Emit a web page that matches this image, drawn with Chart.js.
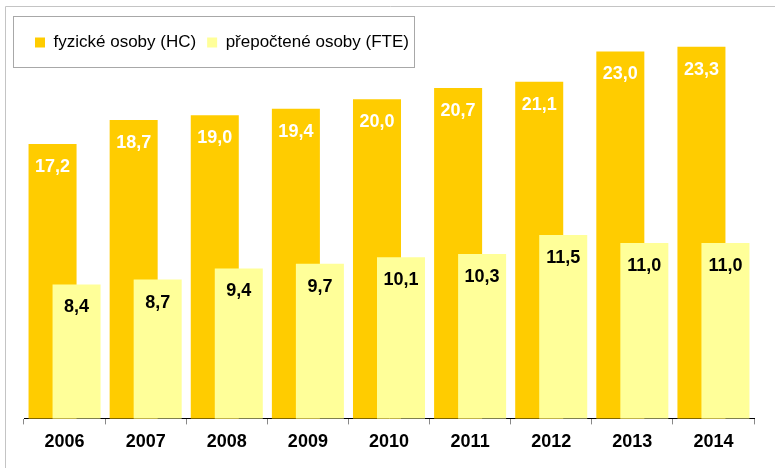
<!DOCTYPE html>
<html>
<head>
<meta charset="utf-8">
<script src="https://cdn.jsdelivr.net/npm/chart.js@4"></script>
<style>
    html, body { margin: 0; padding: 0; background: #fff; }
    #wrap { width: 775px; height: 468px; position: relative; }
</style>
</head>
<body>
<div id="wrap"><canvas id="staffChart"></canvas></div>
<script>
const years = ['2006', '2007', '2008', '2009', '2010', '2011', '2012', '2013', '2014'];
const headCount = [17.2, 18.7, 19.0, 19.4, 20.0, 20.7, 21.1, 23.0, 23.3];
const fullTime = [8.4, 8.7, 9.4, 9.7, 10.1, 10.3, 11.5, 11.0, 11.0];
const seriesNames = ['fyzické osoby (HC)', 'přepočtené osoby (FTE)'];
const yMax = 22.4;

const fontFamily = '"Liberation Sans", Arial, sans-serif';

// HC bars go behind the FTE bars, so draw dataset 0 first by hand
const hcBehind = {
    id: 'hcBehind',
    beforeDatasetsDraw(chart) {
        chart.getDatasetMeta(0).controller.draw();
    },
    beforeDatasetDraw(chart, args) {
        if (args.index === 0) return false;
    }
};

// value labels inside the top of each bar
const barLabels = {
    id: 'barLabels',
    afterDatasetsDraw(chart) {
        const ctx = chart.ctx;
        ctx.save();
        ctx.font = 'bold 18px ' + fontFamily;
        ctx.textAlign = 'center';
        ctx.textBaseline = 'middle';
        chart.data.datasets.forEach((ds, i) => {
            const meta = chart.getDatasetMeta(i);
            ctx.fillStyle = i === 0 ? '#ffffff' : '#000000';
            meta.data.forEach((bar, j) => {
                const txt = ds.data[j].toFixed(1).replace('.', ',');
                ctx.fillText(txt, bar.x, bar.y + 23);
            });
        });
        ctx.restore();
    }
};

// outer frame and legend box
const frames = {
    id: 'frames',
    beforeDraw(chart) {
        const ctx = chart.ctx;
        const lg = chart.legend;
        ctx.save();
        ctx.strokeStyle = '#c4c4c4';
        ctx.lineWidth = 1;
        ctx.beginPath();
        ctx.moveTo(5.5, chart.height);
        ctx.lineTo(5.5, 6.5);
        ctx.lineTo(chart.width, 6.5);
        ctx.stroke();
        ctx.strokeStyle = '#a8a8a8';
        ctx.strokeRect(Math.round(lg.left) - 10.5, Math.round(lg.top) - 6.5, 401, 51);
        ctx.restore();
    }
};

const ctx = document.getElementById('staffChart').getContext('2d');
const staffChart = new Chart(ctx, {
    type: 'bar',
    data: {
        labels: years,
        datasets: [{
            label: seriesNames[0],
            data: headCount,
            backgroundColor: '#ffcc00',
            categoryPercentage: 0.592,
            barPercentage: 2,
            clip: false
        }, {
            label: seriesNames[1],
            data: fullTime,
            backgroundColor: '#ffff99',
            categoryPercentage: 0.592,
            barPercentage: 2,
            clip: false
        }]
    },
    options: {
        responsive: true,
        maintainAspectRatio: false,
        animation: false,
        layout: {
            padding: { left: 24, right: 21, top: 23, bottom: 8 }
        },
        plugins: {
            legend: {
                position: 'top',
                align: 'start',
                labels: {
                    boxWidth: 10,
                    boxHeight: 10,
                    padding: 11,
                    color: '#000',
                    font: { family: fontFamily, size: 17 }
                }
            },
            tooltip: { enabled: false }
        },
        scales: {
            x: {
                grid: {
                    offset: true,
                    drawOnChartArea: false,
                    drawTicks: true,
                    tickLength: 6,
                    tickColor: '#888'
                },
                border: { color: '#000', width: 1 },
                ticks: {
                    padding: 7,
                    color: '#000',
                    font: { family: fontFamily, size: 18, weight: 'bold' }
                }
            },
            y: {
                display: false,
                min: 0,
                max: yMax
            }
        }
    },
    plugins: [hcBehind, barLabels, frames]
});
</script>
</body>
</html>
